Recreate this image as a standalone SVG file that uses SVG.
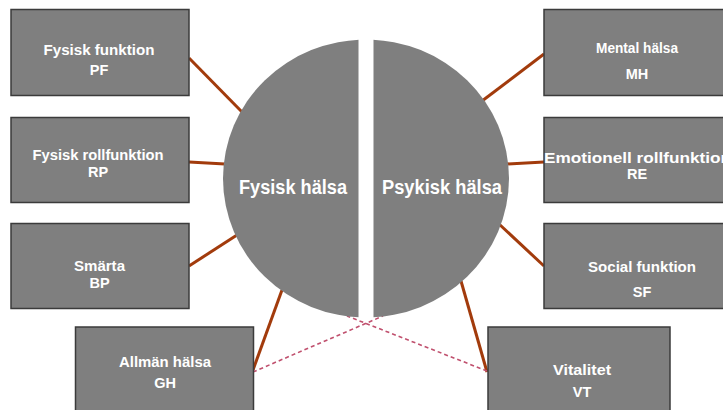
<svg xmlns="http://www.w3.org/2000/svg" width="723" height="410" viewBox="0 0 723 410">
<defs>
<style>
.box{fill:#7f7f7f;stroke:#3b3b3b;stroke-width:1.5}
.lbl{fill:#ffffff;font-family:"Liberation Sans",Arial,sans-serif;font-weight:bold;font-size:14.5px;text-anchor:middle}
.big{fill:#ffffff;font-family:"Liberation Sans",Arial,sans-serif;font-weight:bold;font-size:19.5px;text-anchor:middle}
.con{stroke:#a23b0c;stroke-width:3;fill:none}
.dash{stroke:#c0506e;stroke-width:1.6;stroke-dasharray:4 3;fill:none}
.half{fill:#7f7f7f}
</style>
<clipPath id="clipL"><rect x="0" y="0" width="358.5" height="410"/></clipPath>
<clipPath id="clipR"><rect x="373.5" y="0" width="350" height="410"/></clipPath>
</defs>
<rect width="723" height="410" fill="#ffffff"/>
<g id="connectors">
<line class="con" x1="189" y1="58" x2="243" y2="113"/>
<line class="con" x1="189" y1="162" x2="225" y2="164"/>
<line class="con" x1="189" y1="266" x2="237" y2="235"/>
<line class="con" x1="253" y1="370" x2="282" y2="290"/>
<line class="con" x1="544" y1="54" x2="482" y2="101"/>
<line class="con" x1="544" y1="162" x2="507" y2="164"/>
<line class="con" x1="544" y1="266" x2="499" y2="224"/>
<line class="con" x1="487" y1="372" x2="461" y2="281"/>
<line class="dash" x1="253" y1="372" x2="383" y2="316"/>
<line class="dash" x1="487" y1="371" x2="347" y2="316"/>
</g>
<g id="fysisk-halsa">
<ellipse class="half" cx="366" cy="178.5" rx="143" ry="139" clip-path="url(#clipL)"/>
<text class="big" x="293" y="194" textLength="108" lengthAdjust="spacingAndGlyphs">Fysisk hälsa</text>
</g>
<g id="psykisk-halsa">
<ellipse class="half" cx="366" cy="178.5" rx="143" ry="139" clip-path="url(#clipR)"/>
<text class="big" x="442" y="194" textLength="120" lengthAdjust="spacingAndGlyphs">Psykisk hälsa</text>
</g>
<g id="pf">
<rect class="box" x="11" y="9.5" width="178" height="86"/>
<text class="lbl" x="99" y="55" textLength="111" lengthAdjust="spacingAndGlyphs">Fysisk funktion</text>
<text class="lbl" x="99" y="75">PF</text>
</g>
<g id="rp">
<rect class="box" x="11" y="117.5" width="178" height="85"/>
<text class="lbl" x="98" y="160" textLength="131" lengthAdjust="spacingAndGlyphs">Fysisk rollfunktion</text>
<text class="lbl" x="98" y="177">RP</text>
</g>
<g id="bp">
<rect class="box" x="11" y="223.5" width="178" height="85"/>
<text class="lbl" x="99.5" y="271" textLength="51" lengthAdjust="spacingAndGlyphs">Smärta</text>
<text class="lbl" x="99.5" y="288">BP</text>
</g>
<g id="gh">
<rect class="box" x="75.5" y="327" width="178" height="95"/>
<text class="lbl" x="165" y="367" textLength="92" lengthAdjust="spacingAndGlyphs">Allmän hälsa</text>
<text class="lbl" x="165" y="388">GH</text>
</g>
<g id="mh">
<rect class="box" x="544" y="9.5" width="190" height="86"/>
<text class="lbl" x="637" y="53" textLength="82" lengthAdjust="spacingAndGlyphs">Mental hälsa</text>
<text class="lbl" x="637" y="79">MH</text>
</g>
<g id="re">
<rect class="box" x="544" y="117.5" width="190" height="85"/>
<text class="lbl" x="637.5" y="162.5" textLength="187" lengthAdjust="spacingAndGlyphs">Emotionell rollfunktion</text>
<text class="lbl" x="637" y="178.5">RE</text>
</g>
<g id="sf">
<rect class="box" x="544" y="223.5" width="190" height="85"/>
<text class="lbl" x="642" y="272" textLength="108" lengthAdjust="spacingAndGlyphs">Social funktion</text>
<text class="lbl" x="642" y="297">SF</text>
</g>
<g id="vt">
<rect class="box" x="488" y="327" width="182" height="95"/>
<text class="lbl" x="582" y="375" textLength="58" lengthAdjust="spacingAndGlyphs">Vitalitet</text>
<text class="lbl" x="582" y="397">VT</text>
</g>
</svg>
